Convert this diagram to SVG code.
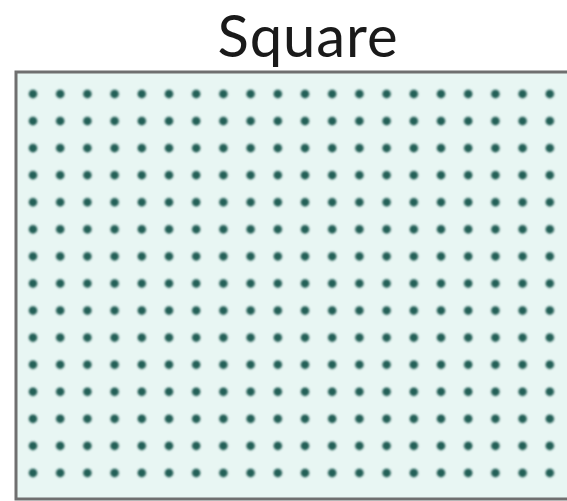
<svg xmlns="http://www.w3.org/2000/svg" width="567" height="501" viewBox="0 0 567 501">
  <style>
    .title { font-family: Lato, "Open Sans", "Liberation Sans", sans-serif; font-size: 58px; fill: #1a1a1a; }
    .frame { fill: none; stroke: #6f6f6f; stroke-width: 3; }
    .bg { fill: #e8f6f3; }
    .dot { fill: #245f56; }
  </style>
  <defs>
    <filter id="soft" x="-50%" y="-50%" width="200%" height="200%">
      <feGaussianBlur stdDeviation="1.1"/>
    </filter>
    <pattern id="dots" patternUnits="userSpaceOnUse" x="19.4" y="80.5" width="27.2" height="27.07">
      <circle class="dot" cx="13.6" cy="13.5" r="4.3" filter="url(#soft)"/>
    </pattern>
  </defs>
  <rect width="567" height="501" fill="#ffffff"/>
  <g id="title">
    <text class="title" x="307.5" y="57" text-anchor="middle" textLength="180" lengthAdjust="spacing">Square</text>
  </g>
  <g id="grid">
    <rect class="bg" x="16" y="72" width="560" height="427"/>
    <rect x="17" y="74" width="550" height="413" fill="url(#dots)"/>
    <rect class="frame" x="16" y="72" width="560" height="427"/>
  </g>
</svg>
